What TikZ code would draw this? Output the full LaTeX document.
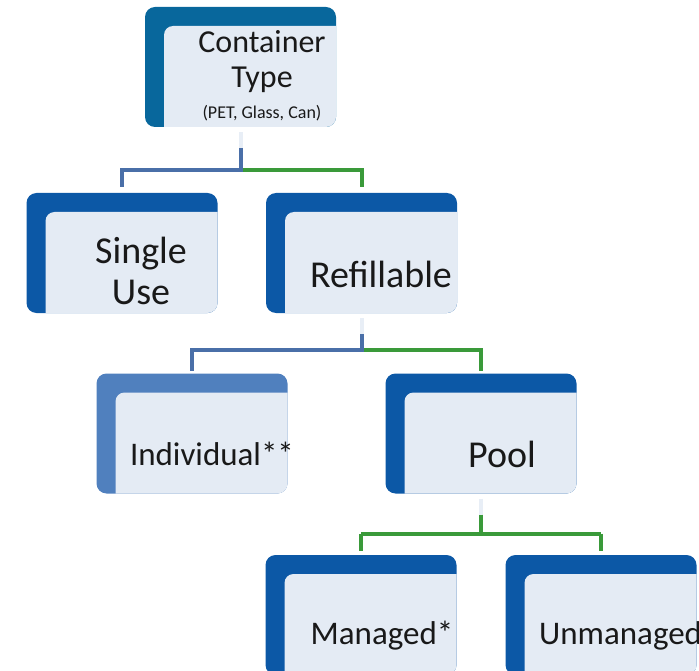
\documentclass[tikz,border=0pt]{standalone}
\usepackage{fontspec}
\setmainfont{Carlito}
\usepackage{tikz}

\definecolor{topblue}{RGB}{8,103,156}
\definecolor{boxblue}{RGB}{12,88,166}
\definecolor{paleblue}{RGB}{80,128,190}
\definecolor{boxlight}{RGB}{228,235,244}
\definecolor{linkblue}{RGB}{74,111,168}
\definecolor{linkgreen}{RGB}{58,154,58}
\definecolor{linkfaint}{RGB}{232,238,246}

\begin{document}
\begin{tikzpicture}[x=1pt,y=-1pt,
	catbox/.style={fill=boxblue, rounded corners=10pt, minimum width=191pt, minimum height=120pt, inner sep=0pt,
		path picture={\fill[boxlight, rounded corners=9pt] ([shift={(19pt,-19pt)}]path picture bounding box.north west) rectangle ([shift={(30pt,-30pt)}]path picture bounding box.south east);}},
	lbl/.style={text=black!90, align=center, inner sep=0pt, font=\fontsize{38}{41}\selectfont},
	small lbl/.style={lbl, font=\fontsize{33}{38}\selectfont},
	link/.style={line width=4pt, line join=miter},
	bluelink/.style={link, draw=linkblue},
	greenlink/.style={link, draw=linkgreen},
	stem/.style={link, draw=linkfaint}]
	\useasboundingbox (0,0) rectangle (699,671);
	\clip (0,0) rectangle (699,671);

	% boxes
	\node[catbox, fill=topblue] (ctype) at (240.5,67) {};
	\node[catbox] (single) at (122,253) {};
	\node[catbox] (refill) at (361.5,253) {};
	\node[catbox, fill=paleblue] (indiv) at (192,433.5) {};
	\node[catbox] (pool) at (481,433.5) {};
	\node[catbox] (managed) at (361,615) {};
	\node[catbox] (unmanaged) at (601,615) {};

	% labels
	\node[lbl, font=\fontsize{32}{35}\selectfont] (ctype-t) at (262,76) {Container\\Type\\[-4pt]{\fontsize{18}{19}\selectfont (PET, Glass, Can)}};
	\node[lbl] (single-t) at (141,271) {Single\\Use};
	\node[lbl] (refill-t) at (381,274) {Refillable};
	\node[small lbl] (indiv-t) at (212,454) {Individual**};
	\node[lbl] (pool-t) at (502,454) {Pool};
	\node[small lbl] (managed-t) at (382,636) {Managed*};
	\node[small lbl, anchor=west] (unmanaged-t) at (539,636) {Unmanaged*};

	% connectors
	\coordinate (bus1) at ([yshift=-43pt]ctype.south);
	\coordinate (bus2) at ([yshift=-37pt]refill.south);
	\coordinate (bus3) at ([yshift=-40pt]pool.south);
	\draw[stem] ([yshift=-5pt]ctype.south) -- ([yshift=-21pt]ctype.south);
	\draw[greenlink] (bus1) -| ([yshift=6pt]refill.north);
	\draw[bluelink] ([yshift=-21pt]ctype.south) -- (bus1) -| ([yshift=6pt]single.north);
	\draw[stem] ([yshift=-5pt]refill.south) -- ([yshift=-21pt]refill.south);
	\draw[greenlink] (bus2) -| ([yshift=2pt]pool.north);
	\draw[bluelink] ([yshift=-21pt]refill.south) -- (bus2) -| ([yshift=2pt]indiv.north);
	\draw[stem] ([yshift=-5pt]pool.south) -- ([yshift=-21pt]pool.south);
	\draw[greenlink] ([yshift=-21pt]pool.south) -- (bus3);
	\draw[greenlink] (managed.north |- bus3) -- (unmanaged.north |- bus3);
	\draw[greenlink] (bus3 -| managed.north) -- ([yshift=4pt]managed.north);
	\draw[greenlink] (bus3 -| unmanaged.north) -- ([yshift=4pt]unmanaged.north);
\end{tikzpicture}
\end{document}
